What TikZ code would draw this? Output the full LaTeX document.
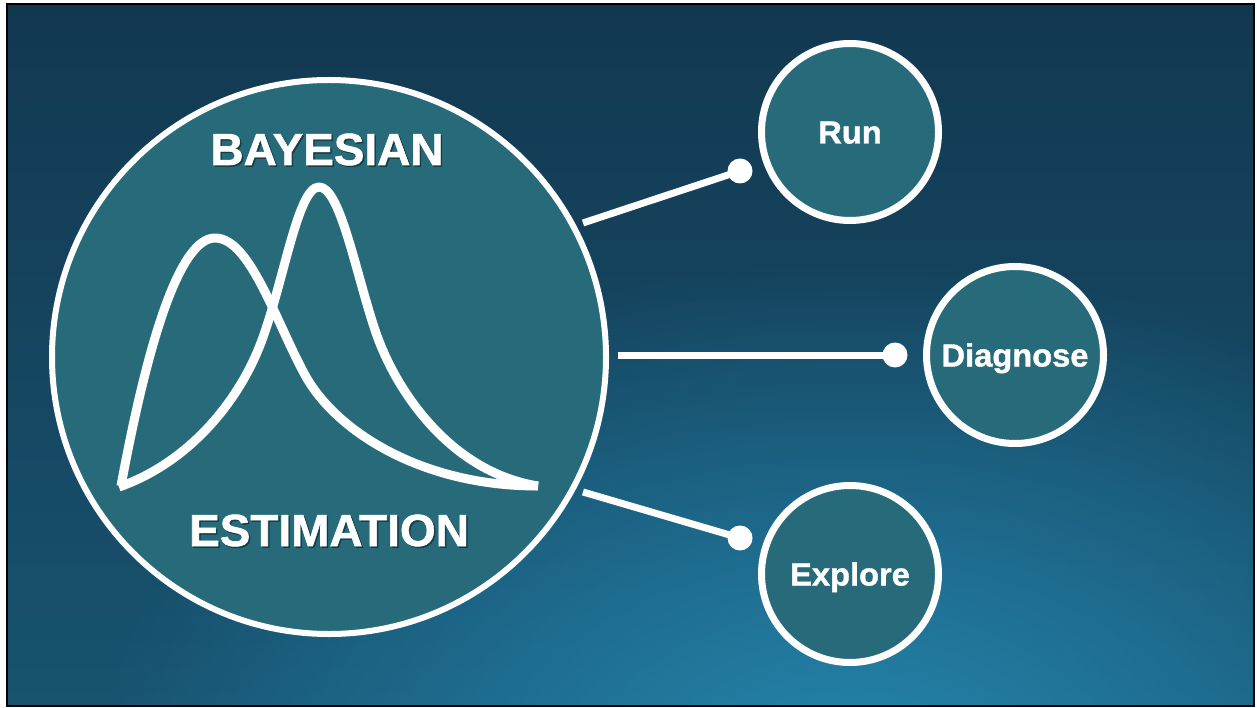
\documentclass[tikz,border=0pt]{standalone}
\usepackage{fontspec}
\setmainfont{Liberation Sans}
\newfontfamily\heavy[BoldFeatures={FakeBold=1.2, FakeStretch=1.02}]{Liberation Sans}
\usetikzlibrary{fadings}

\definecolor{bgtop}{HTML}{123850}
\definecolor{bgbot}{HTML}{185370}
\definecolor{glow}{HTML}{2586AE}
\definecolor{discfill}{HTML}{276B7A}

\tikzfading[name=glowfade, inner color=transparent!0, outer color=transparent!100]

\tikzset{
  bubble/.style={circle, draw=white, fill=discfill, line width=7pt, inner sep=0pt,
    minimum size=177pt, text=white, text height=23pt, text depth=0pt,
    font=\fontsize{32}{38}\selectfont\heavy\bfseries},
  title/.style={text=white, anchor=base, inner sep=0pt,
    font=\fontsize{45}{54}\selectfont\heavy\bfseries},
  titleshadow/.style={title, text=black, opacity=0.35},
  conn/.style={draw=white, line width=7pt},
  dot/.style={circle, fill=white, minimum size=25pt, inner sep=0pt},
  curve/.style={draw=white, line width=9pt, line join=round, line cap=butt}
}

\begin{document}
\begin{tikzpicture}[x=1pt, y=-1pt]
  \useasboundingbox (0,0) rectangle (1257,708);

  % page and backdrop
  \fill[white] (0,0) rectangle (1257,708);
  \shade[top color=bgtop, bottom color=bgbot] (7,4) rectangle (1254,706);
  \begin{scope}
    \clip (7,4) rectangle (1254,706);
    \fill[glow, path fading=glowfade] (850,780) ellipse [x radius=760, y radius=520];
  \end{scope}
  \draw[black, line width=2pt] (7,4) rectangle (1254,706);

  % main disc
  \node[bubble, line width=6pt, minimum size=554pt] (big) at (329,357) {};

  % titles
  \node[titleshadow] at (328.5,166.5) {BAYESIAN};
  \node[title] (bayes) at (327,165) {BAYESIAN};
  \node[titleshadow] at (330.5,547.5) {ESTIMATION};
  \node[title] (estim) at (329,546) {ESTIMATION};

  % two overlapping distributions
  \draw[curve] (121,486) .. controls (148,340) and (180,238) .. (215,238)
    .. controls (250,238) and (275,320) .. (305,375)
    .. controls (335,430) and (420,486) .. (538,486);
  \draw[curve] (119,487) .. controls (190,462) and (240,400) .. (262,340)
    .. controls (284,280) and (298,187) .. (319,187)
    .. controls (340,187) and (355,270) .. (375,330)
    .. controls (395,390) and (450,472) .. (538,486);

  % satellite discs
  \node[bubble] (run) at (850,132) {Run};
  \node[bubble] (diag) at (1015,355) {Diagnose};
  \node[bubble] (expl) at (850,574) {Explore};

  % connectors
  \coordinate (runfrom) at (583,223);
  \coordinate (diagfrom) at (618,355);
  \coordinate (explfrom) at (583,492);
  \node[dot] (rundot) at (740,171) {};
  \node[dot] (diagdot) at (895,355) {};
  \node[dot] (expldot) at (740,538) {};
  \draw[conn] (runfrom) -- (rundot.center);
  \draw[conn] (diagfrom) -- (diagdot.center);
  \draw[conn] (explfrom) -- (expldot.center);
\end{tikzpicture}
\end{document}
